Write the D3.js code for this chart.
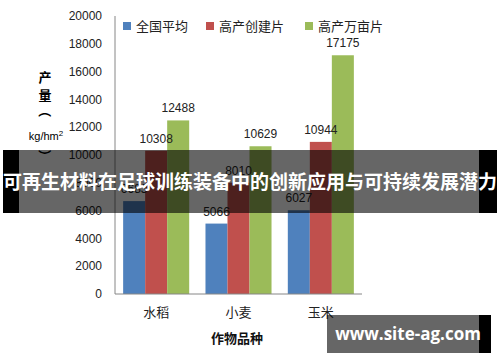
<!DOCTYPE html>
<html>
<head>
<meta charset="utf-8">
<script src="https://cdn.jsdelivr.net/npm/d3@7"></script>
<style>
  body { margin: 0; background: #fff; }
  svg { display: block; }
</style>
</head>
<body>
<svg id="chart"></svg>
<script>
// data
const crops = ["水稻", "小麦", "玉米"];
const seriesNames = ["全国平均", "高产创建片", "高产万亩片"];
const avgValues = [6683, 5066, 6027];
const createValues = [10308, 8010, 10944];
const wanmuValues = [12488, 10629, 17175];
const yTicks = [0, 2000, 4000, 6000, 8000, 10000, 12000, 14000, 16000, 18000, 20000];
const colors = ["#4F81BD", "#C0504D", "#9BBB59"];

const width = 500, height = 362;
const svg = d3.select("#chart").attr("width", width).attr("height", height);

const cjk = "'Noto Sans CJK SC', 'Noto Sans', sans-serif";
const num = "'Liberation Sans', Arial, sans-serif";

// scales
const x0 = d3.scaleBand().domain(crops).range([115, 362]);
const x1 = d3.scaleBand().domain(seriesNames).range([0, x0.bandwidth()]).paddingOuter(0.37);
const y = d3.scaleLinear().domain([0, 20000]).range([294, 16]);

const rows = crops.map((c, i) => ({
  crop: c,
  vals: [avgValues[i], createValues[i], wanmuValues[i]]
}));

// y tick labels (no tick marks)
svg.append("g").selectAll("text")
  .data(yTicks)
  .enter().append("text")
  .attr("x", 102)
  .attr("y", d => y(d))
  .attr("dy", "0.35em")
  .attr("text-anchor", "end")
  .style("font-family", num)
  .style("font-size", "12px")
  .attr("fill", "#222")
  .text(d => d);

// bars
const groups = svg.append("g").selectAll("g")
  .data(rows)
  .enter().append("g")
  .attr("transform", d => `translate(${x0(d.crop)},0)`);

groups.selectAll("rect")
  .data(d => d.vals.map((v, i) => ({ s: seriesNames[i], v: v, i: i })))
  .enter().append("rect")
  .attr("x", d => x1(d.s))
  .attr("y", d => y(d.v))
  .attr("width", x1.bandwidth())
  .attr("height", d => y(0) - y(d.v))
  .attr("fill", d => colors[d.i]);

groups.selectAll("text")
  .data(d => d.vals.map((v, i) => ({ s: seriesNames[i], v: v })))
  .enter().append("text")
  .attr("x", d => x1(d.s) + x1.bandwidth() / 2)
  .attr("y", d => y(d.v) - 8)
  .attr("text-anchor", "middle")
  .style("font-family", num)
  .style("font-size", "12px")
  .attr("fill", "#222")
  .text(d => d.v);

// axis lines
svg.append("line")
  .attr("x1", 115).attr("x2", 115).attr("y1", 16).attr("y2", y(0))
  .attr("stroke", "#868686");
svg.append("line")
  .attr("x1", 115).attr("x2", 362).attr("y1", y(0)).attr("y2", y(0))
  .attr("stroke", "#868686");

// category labels
svg.append("g").selectAll("text")
  .data(crops)
  .enter().append("text")
  .attr("x", d => x0(d) + x0.bandwidth() / 2)
  .attr("y", 317)
  .attr("text-anchor", "middle")
  .style("font-family", cjk)
  .style("font-size", "13px")
  .attr("fill", "#222")
  .text(d => d);

// axis titles
svg.append("text")
  .attr("x", 237).attr("y", 343)
  .attr("text-anchor", "middle")
  .style("font-family", cjk)
  .style("font-size", "13px")
  .style("font-weight", "bold")
  .attr("fill", "#111")
  .text("作物品种");

const yt = svg.append("g");
yt.append("text").attr("x", 45).attr("y", 82).attr("text-anchor", "middle")
  .style("font-family", cjk).style("font-size", "13px").style("font-weight", "bold")
  .text("产");
yt.append("text").attr("x", 45).attr("y", 100).attr("text-anchor", "middle")
  .style("font-family", cjk).style("font-size", "13px").style("font-weight", "bold")
  .text("量");
yt.append("text").attr("transform", "translate(45,111) rotate(90)")
  .attr("text-anchor", "middle").attr("dy", "0.35em")
  .style("font-family", cjk).style("font-size", "13px").style("font-weight", "bold")
  .text("（");
yt.append("text").attr("x", 46).attr("y", 140).attr("text-anchor", "middle")
  .style("font-family", num).style("font-size", "11px")
  .html("kg/hm<tspan dy='-4' font-size='8'>2</tspan>");
yt.append("text").attr("transform", "translate(45,156) rotate(90)")
  .attr("text-anchor", "middle").attr("dy", "0.35em")
  .style("font-family", cjk).style("font-size", "13px").style("font-weight", "bold")
  .text("）");

// legend
const legendX = [123, 206, 305];
const legend = svg.append("g").selectAll("g")
  .data(seriesNames)
  .enter().append("g")
  .attr("transform", (d, i) => `translate(${legendX[i]},26)`);
legend.append("rect")
  .attr("x", 0).attr("y", -4).attr("width", 8).attr("height", 8)
  .attr("fill", (d, i) => colors[i]);
legend.append("text")
  .attr("x", 13).attr("dy", "0.35em")
  .style("font-family", cjk)
  .style("font-size", "13px")
  .attr("fill", "#222")
  .text(d => d);

// title banner overlay
svg.append("rect").attr("x", 3).attr("y", 150).attr("width", 16).attr("height", 63).attr("fill", "#000");
svg.append("rect").attr("x", 479).attr("y", 150).attr("width", 18).attr("height", 63).attr("fill", "#000");
svg.append("rect").attr("x", 19).attr("y", 150).attr("width", 460).attr("height", 63)
  .attr("fill", "rgba(0,0,0,0.6)");
svg.append("text")
  .attr("x", 250).attr("y", 182)
  .attr("dy", "0.35em")
  .attr("text-anchor", "middle")
  .style("font-family", cjk)
  .style("font-size", "19px")
  .style("font-weight", "bold")
  .attr("fill", "#fff")
  .text("可再生材料在足球训练装备中的创新应用与可持续发展潜力");

// watermark
svg.append("rect").attr("x", 479).attr("y", 315).attr("width", 12).attr("height", 38).attr("fill", "#000");
svg.append("rect").attr("x", 327).attr("y", 315).attr("width", 152).attr("height", 38)
  .attr("fill", "rgba(0,0,0,0.6)");
svg.append("text")
  .attr("x", 408).attr("y", 334)
  .attr("dy", "0.35em")
  .attr("text-anchor", "middle")
  .style("font-family", "'Open Sans', 'DejaVu Sans', sans-serif")
  .style("font-size", "17px")
  .style("font-weight", "bold")
  .attr("fill", "#fff")
  .text("www.site-ag.com");
</script>
</body>
</html>
